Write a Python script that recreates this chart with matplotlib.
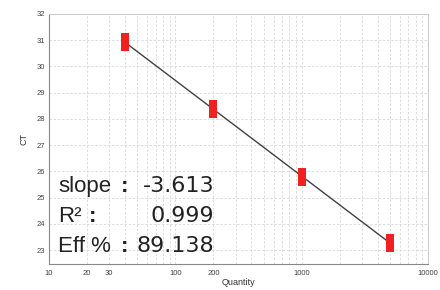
import numpy as np
import matplotlib.pyplot as plt
from matplotlib.path import Path
from matplotlib.ticker import FixedLocator, NullFormatter, LogLocator

plt.rcParams['font.family'] = ['Liberation Sans', 'DejaVu Sans']

# data
quantity = [40, 200, 1000, 5000]
ct = [30.92, 28.38, 25.80, 23.28]
xticks = [10, 20, 30, 100, 200, 1000, 10000]
xtick_labels = ['10', '20', '30', '100', '200', '1000', '10000']
yticks = [23, 24, 25, 26, 27, 28, 29, 30, 31, 32]
stats_names = ['slope', 'R²', 'Eff %']
stats_vals = ['-3.613', '0.999', '89.138']

# fit line through points
lx = np.log10(quantity)
slope, icpt = np.polyfit(lx, ct, 1)

bar = Path([(-0.24, -0.5), (0.24, -0.5), (0.24, 0.5), (-0.24, 0.5), (-0.24, -0.5)],
           [Path.MOVETO, Path.LINETO, Path.LINETO, Path.LINETO, Path.CLOSEPOLY])

fig = plt.figure(figsize=(4.4, 2.9), dpi=100)
ax = fig.add_axes([49/440, 1-264/290, 379/440, 250/290])

ax.plot(quantity, icpt + slope*lx, color='#404040', lw=1, zorder=2)
ax.plot(quantity, ct, ls='none', marker=bar, markersize=13,
        color='#ee2222', mec='#ee2222', mew=0, zorder=3)

ax.set_xscale('log')
ax.set_xlim(10, 10000)
ax.set_ylim(22.47, 32)
ax.xaxis.set_major_locator(FixedLocator(xticks))
ax.set_xticklabels(xtick_labels)
ax.xaxis.set_minor_locator(LogLocator(base=10, subs=np.arange(2, 10)))
ax.xaxis.set_minor_formatter(NullFormatter())
ax.set_yticks(yticks)

ax.grid(True, which='both', axis='x', ls=(0, (3, 2)), color='#d8d8d8', lw=0.6)
ax.grid(True, which='major', axis='y', ls=(0, (3, 2)), color='#d8d8d8', lw=0.6)
ax.set_axisbelow(True)

ax.tick_params(axis='both', which='both', length=0, labelsize=5.5,
               labelcolor='#444444', pad=3)
ax.tick_params(axis='x', pad=4)
for s in ['top', 'right']:
    ax.spines[s].set_color('#cccccc')
for s in ['left', 'bottom']:
    ax.spines[s].set_color('#888888')

ax.set_xlabel('Quantity', fontsize=6.5, color='#333333', labelpad=1)
ax.set_ylabel('CT', fontsize=6.5, color='#333333', labelpad=6)

# stats box text, label / colon / value
baselines = [192, 222, 252]
colon_x = [125, 93, 125]
for t, v, y, cx in zip(stats_names, stats_vals, baselines, colon_x):
    fy = 1 - y/290
    fig.text(58/440, fy, t, fontsize=16, color='#222222', va='baseline', ha='left')
    fig.text(cx/440, fy, ':', fontsize=16, color='#222222', va='baseline', ha='center',
             fontweight='bold')
    fig.text(214/440, fy, v, fontsize=16, color='#222222', va='baseline', ha='right',
             family=['DejaVu Sans'])

fig.savefig('out.png', dpi=100)
